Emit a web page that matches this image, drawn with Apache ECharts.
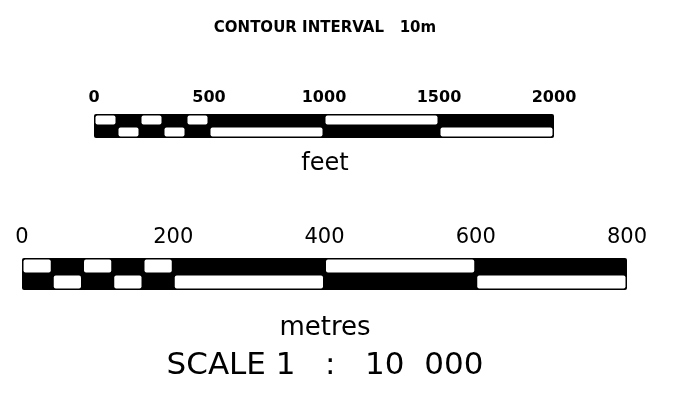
<!DOCTYPE html>
<html>
<head>
<meta charset="utf-8">
<style>
    html, body { margin: 0; padding: 0; background: #fff; }
    #scaleBar { width: 673px; height: 401px; }
</style>
<script src="https://cdn.jsdelivr.net/npm/echarts@6/dist/echarts.min.js"></script>
</head>
<body>
<div id="scaleBar"></div>
<script>
    // feet bar: white blocks of each row, [from, to] in feet
    const feetTicks = [0, 500, 1000, 1500, 2000];
    const feetTopWhite = [[0, 100], [200, 300], [400, 500], [1000, 1500]];
    const feetBottomWhite = [[100, 200], [300, 400], [500, 1000], [1500, 2000]];

    // metres bar
    const metresTicks = [0, 200, 400, 600, 800];
    const metresTopWhite = [[0, 40], [80, 120], [160, 200], [400, 600]];
    const metresBottomWhite = [[40, 80], [120, 160], [200, 400], [600, 800]];

    const headerText = 'CONTOUR INTERVAL   10m';
    const feetUnit = 'feet';
    const metresUnit = 'metres';
    const scaleText = 'SCALE 1   :   10  000';

    function fnRows(top, bottom) {
        let rows = [];
        for (let i = 0; i < top.length; i++) rows.push([top[i][0], top[i][1], 1]);
        for (let i = 0; i < bottom.length; i++) rows.push([bottom[i][0], bottom[i][1], 0]);
        return rows;
    }

    function fnRenderBar(params, api) {
        let p0 = api.coord([api.value(0), 2]);
        let p1 = api.coord([api.value(1), 0]);
        return {
            type: 'rect',
            shape: { x: p0[0], y: p0[1], width: p1[0] - p0[0], height: p1[1] - p0[1], r: 2 },
            style: { fill: '#000' }
        };
    }

    function fnRenderWhite(params, api) {
        let inset = 1.5;
        let p0 = api.coord([api.value(0), api.value(2) + 1]);
        let p1 = api.coord([api.value(1), api.value(2)]);
        return {
            type: 'rect',
            shape: {
                x: p0[0] + inset,
                y: p0[1] + inset,
                width: p1[0] - p0[0] - 2 * inset,
                height: p1[1] - p0[1] - 2 * inset,
                r: 2
            },
            style: { fill: '#fff' }
        };
    }

    function fnTickAxis(ticks, gridIndex, font) {
        return {
            gridIndex: gridIndex,
            type: 'value',
            position: 'top',
            min: ticks[0],
            max: ticks[ticks.length - 1],
            interval: ticks[1] - ticks[0],
            axisLine: { show: false },
            axisTick: { show: false },
            splitLine: { show: false },
            axisLabel: Object.assign({
                showMinLabel: true,
                showMaxLabel: true,
                color: '#000',
                formatter: function (value) { return String(value); }
            }, font)
        };
    }

    function fnText(text, y, size, weight) {
        return {
            type: 'text',
            x: 325,
            y: y,
            style: {
                text: text,
                align: 'center',
                verticalAlign: 'middle',
                fontFamily: 'DejaVu Sans',
                fontWeight: weight,
                fontSize: size,
                fill: '#000'
            }
        };
    }

    let chartDom = document.getElementById('scaleBar');
    let myChart = echarts.init(chartDom, null, { renderer: 'canvas' });

    let option = {
        backgroundColor: '#fff',
        animation: false,
        graphic: [
            fnText(headerText, 28, 15, 'bold'),
            fnText(feetUnit, 164, 24, 'normal'),
            fnText(metresUnit, 328, 26, 'normal'),
            fnText(scaleText, 366, 31, 'normal')
        ],
        grid: [
            { left: 94, width: 460, top: 114, height: 24 },
            { left: 22, width: 605, top: 258, height: 32 }
        ],
        xAxis: [
            fnTickAxis(feetTicks, 0, { fontFamily: 'DejaVu Sans', fontWeight: 'bold', fontSize: 16, margin: 8 }),
            fnTickAxis(metresTicks, 1, { fontFamily: 'DejaVu Sans', fontWeight: 'normal', fontSize: 21, margin: 10 })
        ],
        yAxis: [
            { gridIndex: 0, type: 'value', min: 0, max: 2, show: false },
            { gridIndex: 1, type: 'value', min: 0, max: 2, show: false }
        ],
        series: [
            { type: 'custom', xAxisIndex: 0, yAxisIndex: 0, renderItem: fnRenderBar,
              data: [[feetTicks[0], feetTicks[feetTicks.length - 1]]], clip: false },
            { type: 'custom', xAxisIndex: 0, yAxisIndex: 0, renderItem: fnRenderWhite,
              data: fnRows(feetTopWhite, feetBottomWhite), clip: false },
            { type: 'custom', xAxisIndex: 1, yAxisIndex: 1, renderItem: fnRenderBar,
              data: [[metresTicks[0], metresTicks[metresTicks.length - 1]]], clip: false },
            { type: 'custom', xAxisIndex: 1, yAxisIndex: 1, renderItem: fnRenderWhite,
              data: fnRows(metresTopWhite, metresBottomWhite), clip: false }
        ]
    };

    myChart.setOption(option);
</script>
</body>
</html>
